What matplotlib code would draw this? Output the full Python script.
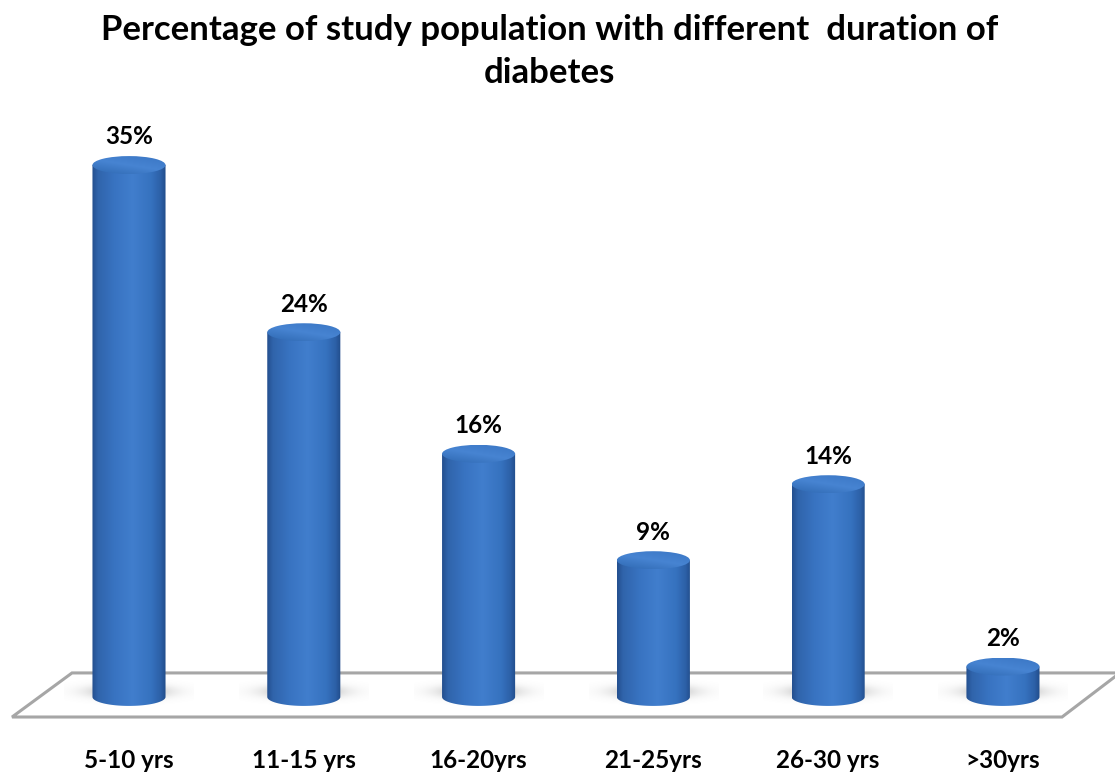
import numpy as np
import matplotlib
matplotlib.use("Agg")
import matplotlib.pyplot as plt
from matplotlib.path import Path
from matplotlib.patches import PathPatch, Polygon, Ellipse
from matplotlib.colors import LinearSegmentedColormap

# Data
categories = ["5-10 yrs", "11-15 yrs", "16-20yrs", "21-25yrs", "26-30 yrs", ">30yrs"]
percentages = [35, 24, 16, 9, 14, 2]
title = "Percentage of study population with different  duration of\ndiabetes"

plt.rcParams["font.family"] = ["Lato", "DejaVu Sans"]

fig = plt.figure(figsize=(11.15, 7.74), dpi=100)
ax = fig.add_axes([0, 0, 1, 1])
ax.set_xlim(-0.738, 5.641)
ax.set_ylim(-5.07, 45.86)
ax.axis("off")

bar_w = 0.418
ell_h = 1.18  # full height of the elliptical caps (data units)

# Floor of the 3D plot
floor = Polygon([(-0.326, 1.58), (5.669, 1.58), (5.338, -1.32), (-0.669, -1.32)],
                closed=True, facecolor="white", edgecolor="#a6a6a6", lw=2.2, zorder=1)
ax.add_patch(floor)

body_cmap = LinearSegmentedColormap.from_list(
    "body", [(0.0, "#244f8e"), (0.08, "#3064ab"), (0.3, "#3873c1"),
             (0.55, "#417ecd"), (0.8, "#3672bf"), (0.93, "#2c60a7"), (1.0, "#214c8a")])
top_cmap = LinearSegmentedColormap.from_list(
    "top", [(0.0, "#2f69b2"), (0.5, "#4784d2"), (1.0, "#3a76c4")])

t = np.linspace(0, np.pi, 60)

for i, (cat, v) in enumerate(zip(categories, percentages)):
    x0, x1 = i - bar_w / 2, i + bar_w / 2

    # soft shadow on the floor around the foot of the cylinder
    gx = np.linspace(-1, 1, 120)
    gy = np.linspace(-1, 1, 40)
    GX, GY = np.meshgrid(gx, gy)
    alpha = np.exp(-(GX ** 2 / 0.3 + GY ** 2 / 0.2)) * 0.75
    shadow = np.zeros((40, 120, 4))
    shadow[..., :3] = 0.5
    shadow[..., 3] = alpha
    ax.imshow(shadow, extent=(i - 0.37, i + 0.37, -0.6, 1.3), aspect="auto",
              interpolation="bilinear", zorder=2)

    # cylinder body outline: side walls plus bottom half-ellipse
    bx = i + (bar_w / 2) * np.cos(np.pi + t)
    by = -(ell_h / 2) * np.sin(t)
    verts = [(x0, v)] + list(zip(bx, by)) + [(x1, v), (x0, v)]
    body_path = Path(verts, closed=True)
    body = PathPatch(body_path, facecolor="none", edgecolor="none", zorder=3)
    ax.add_patch(body)
    grad = np.linspace(0, 1, 256).reshape(1, -1)
    im = ax.imshow(grad, cmap=body_cmap, extent=(x0, x1, -ell_h, v),
                   aspect="auto", interpolation="bicubic", zorder=3)
    im.set_clip_path(body)

    # top cap
    cap = Ellipse((i, v), bar_w, ell_h, facecolor="none", edgecolor="none", zorder=4)
    ax.add_patch(cap)
    cgrad = np.linspace(0, 1, 64).reshape(-1, 1) * np.ones((1, 64))
    cgrad = 0.6 * cgrad + 0.4 * np.linspace(0, 1, 64).reshape(1, -1)
    cim = ax.imshow(cgrad, cmap=top_cmap, extent=(x0, x1, v - ell_h / 2, v + ell_h / 2),
                    aspect="auto", interpolation="bicubic", origin="lower", zorder=4)
    cim.set_clip_path(cap)

    # value label
    ax.text(i, v + ell_h / 2 + 0.5, f"{v}%", ha="center", va="bottom",
            fontsize=17.5, fontweight="bold", color="black", zorder=5)

    # category label
    ax.text(i, -4.15, cat, ha="center", va="center",
            fontsize=17.5, fontweight="bold", color="black")

fig.text(0.493, 0.982, title, ha="center", va="top", fontsize=25,
         fontweight="bold", linespacing=1.42)

fig.savefig("out.png", dpi=100)
